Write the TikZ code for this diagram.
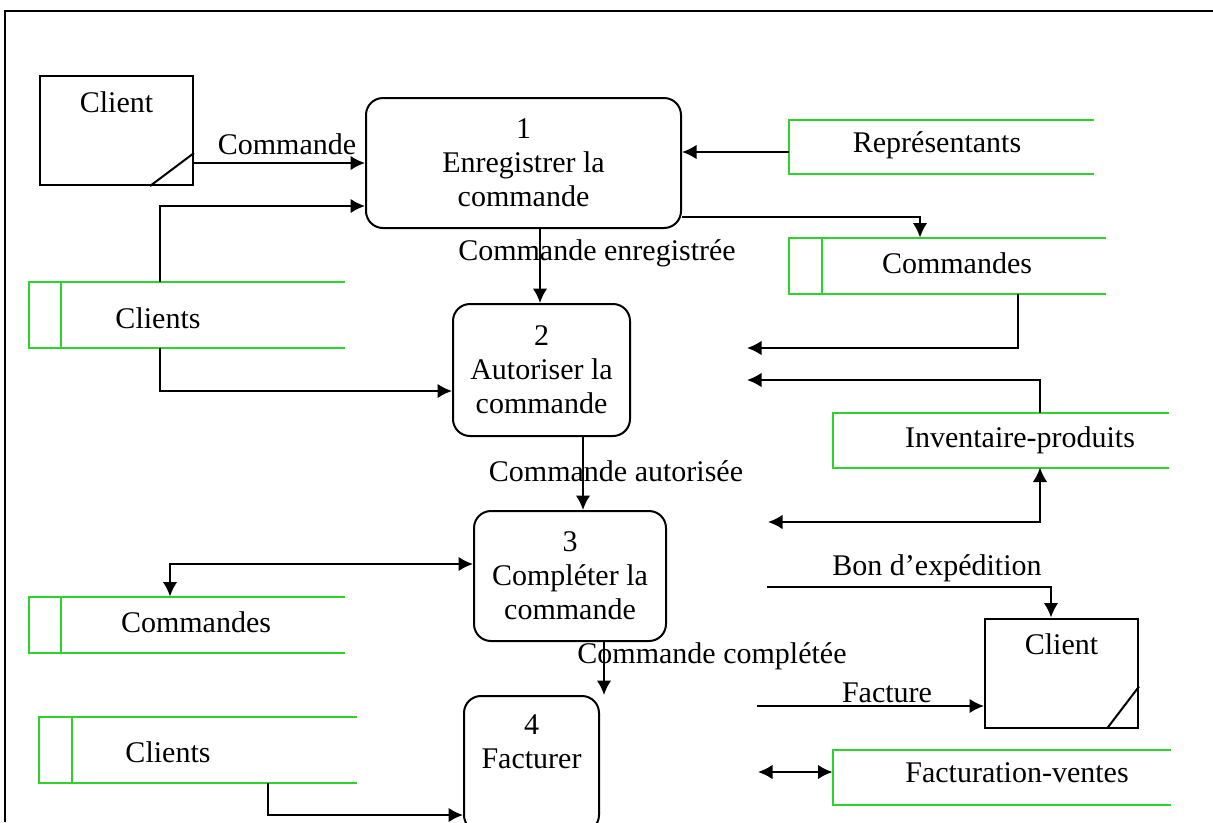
\documentclass[tikz,border=0pt]{standalone}
\usepackage{fontspec}
\setmainfont{Liberation Serif}
\usetikzlibrary{positioning, arrows.meta}
\definecolor{storegreen}{RGB}{45,210,45}
\newcommand{\dfdfont}{\fontsize{12}{13.6}\selectfont}

\begin{document}
\begin{tikzpicture}[x=0.4pt, y=-0.4pt, font=\dfdfont,
	process/.style={draw, rectangle, rounded corners=6.8pt, line width=0.8pt, align=center, inner sep=2pt},
	entity/.style={draw, rectangle, line width=0.8pt, minimum width=61.2pt, minimum height=43.6pt},
	store/.style={rectangle, inner sep=0pt},
	storeline/.style={draw=storegreen, line width=0.8pt},
	flow/.style={line width=0.75pt, -{Latex[length=5.8pt,width=5.8pt]}},
	bothway/.style={line width=0.75pt, {Latex[length=5.8pt,width=5.8pt]}-{Latex[length=5.8pt,width=5.8pt]}},
	flowtext/.style={inner sep=0pt}]
		
		\useasboundingbox (0,0) rectangle (1213,822);
		\clip (0,0) rectangle (1213,822);
		\draw[line width=0.8pt] (1213,11) -- (5,11) -- (5,822);
		
		%Processes
		\node[process, minimum width=126pt, minimum height=52pt] (firstProcess) at (523.5,163)
		{1\\Enregistrer la\\commande};
		
		\node[process, minimum width=70.8pt, minimum height=52.8pt] (secondProcess) at (541.5,370)
		{2\\Autoriser la\\commande};
		
		\node[process, minimum width=76.8pt, minimum height=52pt] (thirdProcess) at (570,576)
		{3\\Compléter la\\commande};
		
		\node[process, minimum width=54pt, minimum height=54.4pt] (fourthProcess) at (531.5,764)
		{4\\Facturer\\\strut};
		
		%External entities
		\node[entity, label={[anchor=north, yshift=-3pt]north:Client}] (clientTop) at (116.5,130.5) {};
		\draw[line width=0.8pt] ([xshift=-17.6pt]clientTop.south east) -- ([yshift=13.2pt]clientTop.south east);
		
		\node[entity, label={[anchor=north, yshift=-3pt]north:Client}] (clientBottom) at (1061.5,673) {};
		\draw[line width=0.8pt] ([xshift=-12.8pt]clientBottom.south east) -- ([yshift=16.8pt]clientBottom.south east);
		
		%Data stores
		\node[store, minimum width=125.6pt, minimum height=26pt] (clientsStoreTop) at (187,314.5) {};
		\node at (158,318) {Clients};
		
		\node[store, minimum width=121.6pt, minimum height=21.2pt] (representantsStore) at (941,146.5) {};
		\node at (937,145) {Représentants};
		
		\node[store, minimum width=126.4pt, minimum height=22pt] (commandesStoreTop) at (947,265.5) {};
		\node at (957,263) {Commandes};
		
		\node[store, minimum width=134pt, minimum height=21.6pt] (inventaireStore) at (1000.5,440) {};
		\node at (1020,440) {Inventaire-produits};
		
		\node[store, minimum width=125.6pt, minimum height=22pt] (commandesStoreBottom) at (187,624.5) {};
		\node at (196,622) {Commandes};
		
		\node[store, minimum width=126.4pt, minimum height=26pt] (clientsStoreBottom) at (198,749.5) {};
		\node at (168,752) {Clients};
		
		\node[store, minimum width=134.8pt, minimum height=21.6pt] (facturationStore) at (1001.5,777) {};
		\node at (1017,773) {Facturation-ventes};
		
		\foreach \s in {clientsStoreTop, representantsStore, commandesStoreTop, inventaireStore,
			commandesStoreBottom, clientsStoreBottom, facturationStore}
		\draw[storeline] (\s.north east) -- (\s.north west) -- (\s.south west) -- (\s.south east);
		
		\foreach \s/\w in {clientsStoreTop/12.8pt, commandesStoreTop/13.2pt,
			commandesStoreBottom/12.8pt, clientsStoreBottom/13.2pt}
		\draw[storeline] ([xshift=\w]\s.north west) -- ([xshift=\w]\s.south west);
		
		%Free ends
		\coordinate (commandesEnd) at (747,348);
		\coordinate (inventaireEnd) at (747,380);
		\coordinate (inventaireBack) at (768,522);
		\coordinate (bonStart) at (767,587);
		\coordinate (factureStart) at (757,706);
		\coordinate (ventesEnd) at (758,772);
		
		%Links of process 1
		\draw[flow] (clientTop.east |- 0,163) -- (firstProcess.west |- 0,163);
		\node[flowtext] at (287,144) {Commande};
		
		\draw[flow] (clientsStoreTop.north -| 160,0) |- (firstProcess.west |- 0,206);
		
		\draw[flow] (representantsStore.west |- 0,152) -- (firstProcess.east |- 0,152);
		
		\draw[flow] (firstProcess.east |- 0,217) -| (commandesStoreTop.north -| 920,0);
		
		\draw[flow] (firstProcess.south -| 540,0) -- (secondProcess.north -| 540,0);
		\node[flowtext] at (597,253) {Commande enregistrée};
		
		%Links of process 2
		\draw[flow] (clientsStoreTop.south -| 160,0) |- (secondProcess.west |- 0,391);
		
		\draw[flow] (commandesStoreTop.south -| 1018,0) |- (commandesEnd);
		
		\draw[flow] (inventaireStore.north -| 1040,0) |- (inventaireEnd);
		
		\draw[flow] (secondProcess.south -| 583,0) -- (thirdProcess.north -| 583,0);
		\node[flowtext] at (616,471) {Commande autorisée};
		
		%Links of process 3
		\draw[bothway] (inventaireBack) -| (inventaireStore.south -| 1040,0);
		
		\draw[bothway] (commandesStoreBottom.north -| 170,0) |- (thirdProcess.west |- 0,564);
		
		\draw[flow] (thirdProcess.south -| 604,0) -- (fourthProcess.north -| 604,0);
		\node[flowtext] at (712,656) {Commande complétée};
		
		\draw[flow] (bonStart) -| (clientBottom.north -| 1051,0);
		\node[flowtext] at (937,568) {Bon d’expédition};
		
		%Links of process 4
		\draw[flow] (clientsStoreBottom.south -| 268,0) |- (fourthProcess.west |- 0,815);
		
		\draw[flow] (factureStart) -- (clientBottom.west |- 0,706);
		\node[flowtext] at (887,693) {Facture};
		
		\draw[bothway] (ventesEnd) -- (facturationStore.west |- 0,772);
		
\end{tikzpicture}
\end{document}
